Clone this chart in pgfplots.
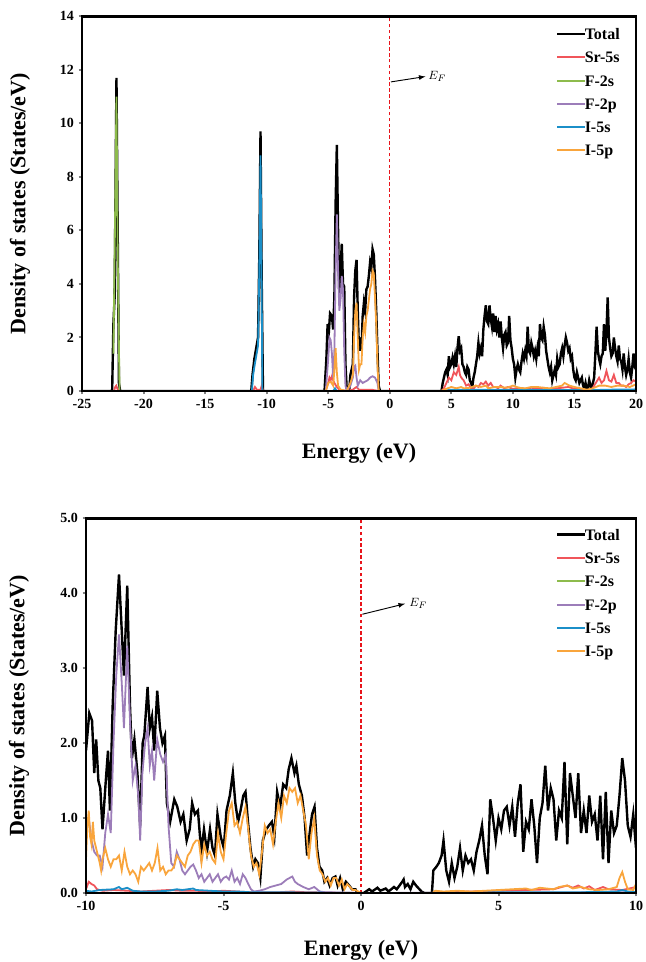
\documentclass[border=0pt]{standalone}
\usepackage{fontspec}
\setmainfont{Liberation Serif}
\usepackage{pgfplots}
\pgfplotsset{compat=1.18}

\definecolor{dosTotal}{RGB}{0,0,0}
\definecolor{dosSr}{RGB}{240,85,90}
\definecolor{dosFs}{RGB}{141,187,76}
\definecolor{dosFp}{RGB}{156,125,185}
\definecolor{dosIs}{RGB}{27,143,200}
\definecolor{dosIp}{RGB}{249,165,60}
\definecolor{dosFermi}{RGB}{232,20,27}

% legend sample: a coloured rule set as text, followed by the label
\newcommand\legline[2][1.6pt]{\textcolor{#2}{\rule[0.28em]{0.72cm}{#1}}}

\pgfplotsset{
  dosaxis/.style={
    scale only axis,
    axis lines=box,
    axis line style={line width=2pt},
    xtick pos=left, ytick pos=left,
    tick align=outside, major tick length=2.5pt,
    tick style={line width=1.5pt},
    /pgf/number format/assume math mode=true,
    ticklabel style={font=\bfseries\fontsize{10.5}{12}\selectfont},
    label style={font=\bfseries\fontsize{16.5}{19}\selectfont},
    legend style={draw=none, fill=none, font=\bfseries\fontsize{12}{14}\selectfont,
      row sep=8pt, inner sep=0pt, column sep=0pt,
      nodes={inner sep=0pt, outer sep=0pt}},
    legend cell align=left,
    legend image code/.code={},
  },
  tot/.style={color=dosTotal, line width=1.8pt},
  pd/.style={line width=1.35pt},
  fermi/.style={forget plot, color=dosFermi, line width=0.9pt, dash pattern=on 2.6pt off 1.8pt},
}

\begin{document}
\begin{tikzpicture}
\path[use as bounding box] (0,0) rectangle (483.75pt,721.5pt);

% ---------------- full energy window ----------------
\begin{axis}[dosaxis, name=full,
  at={(61.5pt,428.25pt)}, anchor=south west,
  width=415.5pt, height=281pt,
  xmin=-25, xmax=20, ymin=0, ymax=14,
  xtick={-25,-20,...,20}, ytick={0,2,...,14},
  xlabel={Energy (eV)}, ylabel={Density of states (States/eV)},
  xlabel style={at={(axis description cs:0.5,-0.165)}, anchor=center},
  ylabel style={at={(axis description cs:-0.112,0.5)}, anchor=center},
  legend style={at={(axis description cs:1,1)}, anchor=north east, xshift=-12pt, yshift=-9pt},
]
% Fermi level
\addplot[fermi] coordinates {(0,0) (0,14)};
\addplot[tot] coordinates {
(-25,0) (-22.55,0) (-22.45,2.5) (-22.35,3.5) (-22.25,9) (-22.2,11.7) (-22.1,6) (-22.0,0.3) (-21.9,0)
(-11.25,0) (-11.15,0.6) (-11.0,1.2) (-10.85,1.6) (-10.7,2.0) (-10.6,5) (-10.5,9.7) (-10.4,4) (-10.3,0)
(-5.3,0) (-5.15,1.2) (-5.05,2.5) (-4.95,2.2) (-4.85,2.9) (-4.7,2.8) (-4.6,2.3) (-4.5,3.5) (-4.4,7) (-4.3,9.2)
(-4.2,6) (-4.1,3.6) (-4.0,4.5) (-3.9,5.5) (-3.8,4.0) (-3.7,3.9) (-3.6,1) (-3.5,0.1) (-3.3,0) (-3.2,0.6)
(-3.0,1.0) (-2.9,3.5) (-2.8,4.5) (-2.7,4.9) (-2.6,3.0) (-2.5,1.5) (-2.4,2.0) (-2.3,1.5) (-2.2,2.8) (-2.1,3.3)
(-2.0,3.0) (-1.9,3.8) (-1.8,3.9) (-1.7,4.3) (-1.6,4.8) (-1.5,4.6) (-1.4,5.3) (-1.3,5.1) (-1.2,4.2) (-1.1,3.0)
(-1.0,1.5) (-0.9,0.2) (-0.8,0)
(4.2,0) (4.3,0.3) (4.4,0.5) (4.5,0.7) (4.6,0.8) (4.7,0.6) (4.8,1.3) (4.9,0.9) (5.0,1.0) (5.1,1.25) (5.2,1.0)
(5.3,1.3) (5.4,0.9) (5.5,1.6) (5.6,2.05) (5.7,1.5) (5.8,1.6) (5.9,1.0) (6.0,0.9) (6.1,0.7) (6.2,0.6) (6.3,0.9)
(6.4,0.8) (6.5,0.4) (6.6,0.3) (6.7,0.15) (6.8,0.5) (6.9,0.7) (7.0,1.0) (7.1,1.3) (7.2,1.8) (7.3,1.4) (7.4,1.6)
(7.5,1.3) (7.6,2.3) (7.7,2.8) (7.8,3.2) (7.9,2.6) (8.0,2.5) (8.1,3.2) (8.2,2.7) (8.3,2.4) (8.4,2.9) (8.5,2.2)
(8.6,2.8) (8.7,2.3) (8.8,2.5) (8.9,2.0) (9.0,2.6) (9.1,2.0) (9.2,1.6) (9.3,2.1) (9.4,2.2) (9.5,1.7) (9.6,1.8)
(9.7,2.8) (9.8,1.9) (9.9,1.6) (10.0,1.2) (10.1,1.0) (10.2,0.5) (10.3,0.8) (10.4,1.0) (10.5,0.8) (10.6,0.7)
(10.7,1.1) (10.8,1.4) (10.9,1.2) (11.0,1.5) (11.1,1.3) (11.2,2.4) (11.3,1.5) (11.4,1.4) (11.5,1.8) (11.6,1.6)
(11.7,1.3) (11.8,1.5) (11.9,1.2) (12.0,1.6) (12.1,1.3) (12.2,2.5) (12.3,2.0) (12.4,1.9) (12.5,2.4) (12.6,2.1)
(12.7,1.5) (12.8,1.2) (12.9,0.9) (13.0,0.7) (13.1,0.9) (13.2,0.4) (13.3,0.6) (13.4,0.8) (13.5,0.6) (13.6,1.2)
(13.7,0.9) (13.8,1.0) (13.9,1.4) (14.0,1.6) (14.1,1.3) (14.2,1.7) (14.3,2.0) (14.4,1.8) (14.5,1.5) (14.6,1.6)
(14.7,1.2) (14.8,1.3) (14.9,0.8) (15.0,0.5) (15.1,0.4) (15.2,0.7) (15.3,0.5) (15.4,0.3) (15.5,0.4) (15.6,0.5)
(15.7,0.2) (15.8,0.1) (15.9,0.3) (16.0,0.05) (16.1,0.1) (16.2,0.4) (16.3,0.2) (16.4,0.1) (16.5,0.3) (16.6,0.5)
(16.7,1.4) (16.8,2.4) (16.9,1.5) (17.0,1.2) (17.1,1.0) (17.2,1.3) (17.3,1.4) (17.4,2.5) (17.5,1.5) (17.6,2.2)
(17.7,3.5) (17.8,2.0) (17.9,1.6) (18.0,1.3) (18.1,1.4) (18.2,2.0) (18.3,1.6) (18.4,1.3) (18.5,1.1) (18.6,1.7)
(18.7,1.2) (18.8,1.1) (18.9,0.8) (19.0,1.4) (19.1,0.9) (19.2,0.6) (19.3,0.8) (19.4,1.2) (19.5,0.7) (19.6,0.5)
(19.7,0.9) (19.8,1.4) (19.9,0.9) (20.0,0.8)
};
\addlegendentry{\legline[1.9pt]{dosTotal}Total}
\addplot[pd, color=dosSr] coordinates {
(-25,0) (-22.4,0) (-22.3,0.15) (-22.22,0.2) (-22.1,0.05) (-22.0,0) (-11.1,0) (-10.95,0.15) (-10.8,0.05)
(-10.5,0.05) (-10.4,0.2) (-10.3,0) (-5.2,0) (-5.0,0.3) (-4.9,0.5) (-4.8,0.4) (-4.7,0.55) (-4.6,0.4) (-4.5,0.3)
(-4.3,0.15) (-4.1,0.05) (-3.5,0) (-3.0,0.05) (-2.8,0.12) (-2.7,0.15) (-2.5,0.05) (-1.5,0.05) (-0.9,0)
(4.2,0) (4.4,0.1) (4.6,0.3) (4.8,0.5) (5.0,0.4) (5.2,0.7) (5.4,0.6) (5.6,0.9) (5.7,0.6) (5.8,0.5) (6.0,0.4)
(6.2,0.2) (6.4,0.25) (6.6,0.1) (6.8,0.08) (7.0,0.2) (7.2,0.15) (7.4,0.3) (7.6,0.25) (7.8,0.35) (8.0,0.2)
(8.2,0.3) (8.4,0.15) (8.6,0.15) (8.8,0.1) (9.0,0.2) (9.3,0.1) (9.6,0.15) (10.0,0.08) (10.5,0.12) (11.0,0.08)
(11.5,0.12) (12.0,0.1) (12.5,0.12) (13.0,0.07) (13.5,0.1) (14.0,0.12) (14.5,0.15) (15.0,0.08) (15.5,0.07)
(16.0,0.03) (16.4,0.05) (16.6,0.2) (16.8,0.35) (17.0,0.5) (17.2,0.3) (17.4,0.4) (17.6,0.75) (17.8,0.4) (18.0,0.35)
(18.2,0.6) (18.4,0.3) (18.6,0.3) (18.8,0.2) (19.0,0.2) (19.2,0.15) (19.4,0.25) (19.6,0.3) (19.8,0.4) (20.0,0.35)
};
\addlegendentry{\legline{dosSr}Sr-5s}
\addplot[pd, color=dosFs] coordinates {
(-22.45,1.4) (-22.35,5) (-22.2,11.0) (-22.1,5) (-21.95,0) (20,0)
};
\addlegendentry{\legline{dosFs}F-2s}
\addplot[pd, color=dosFp] coordinates {
(-25,0) (-5.2,0) (-5.0,1.2) (-4.9,2.0) (-4.8,1.9) (-4.7,1.4) (-4.6,0.5) (-4.5,1.5) (-4.4,4.5) (-4.3,6.6) (-4.2,4.5)
(-4.1,3.0) (-4.0,3.4) (-3.9,4.3) (-3.8,3.8) (-3.7,1.5) (-3.6,0.2) (-3.5,0) (-3.2,0.2) (-3.0,0.5) (-2.9,0.9)
(-2.8,0.95) (-2.7,0.5) (-2.6,0.2) (-2.4,0.4) (-2.2,0.3) (-2.0,0.35) (-1.8,0.4) (-1.6,0.5) (-1.4,0.55) (-1.2,0.5)
(-1.0,0.3) (-0.9,0) (20,0)
};
\addlegendentry{\legline{dosFp}F-2p}
\addplot[pd, color=dosIs] coordinates {
(-25,0) (-11.2,0) (-11.1,0.6) (-11.0,0.9) (-10.85,1.3) (-10.7,1.7) (-10.6,4.5) (-10.5,8.8) (-10.4,3.5) (-10.35,0)
(-4.6,0) (-4.45,0.1) (-4.3,0) (4.2,0) (5,0.05) (8,0.05) (12,0.04) (16,0.03) (18,0.05) (20,0.06)
};
\addlegendentry{\legline{dosIs}I-5s}
\addplot[pd, color=dosIp] coordinates {
(-25,0) (-5.2,0) (-5.0,0.3) (-4.8,0.35) (-4.6,0.2) (-4.5,0.8) (-4.4,1.6) (-4.3,0.7) (-4.2,0.2) (-4.0,0.05) (-3.5,0)
(-3.2,0.3) (-3.0,0.6) (-2.9,2.0) (-2.8,3.0) (-2.7,3.3) (-2.6,2.0) (-2.5,0.8) (-2.4,1.0) (-2.3,1.0) (-2.2,2.0)
(-2.1,2.5) (-2.0,2.2) (-1.9,2.8) (-1.8,3.0) (-1.7,3.4) (-1.6,3.8) (-1.5,4.0) (-1.4,4.5) (-1.3,4.4) (-1.2,3.5)
(-1.1,2.5) (-1.0,1.0) (-0.9,0) (4.2,0) (4.4,0.05) (4.7,0.1) (5.0,0.15) (5.4,0.1) (5.8,0.15) (6.0,0.1) (6.5,0.12)
(7.0,0.2) (7.4,0.15) (7.8,0.2) (8.0,0.1) (8.5,0.15) (9.0,0.15) (9.5,0.12) (10.0,0.2) (10.5,0.12) (11.0,0.1)
(11.5,0.15) (12.0,0.15) (12.5,0.12) (13.0,0.1) (13.5,0.15) (14.0,0.2) (14.2,0.3) (14.6,0.2) (15.0,0.15) (15.5,0.1)
(16.0,0.05) (16.5,0.1) (17.0,0.2) (17.5,0.2) (18.0,0.15) (18.5,0.2) (19.0,0.2) (19.5,0.15) (20.0,0.25)
};
\addlegendentry{\legline{dosIp}I-5p}
\draw[-latex, line width=0.7pt] (axis cs:0.1,11.55) -- (axis cs:2.9,11.75);
\node[anchor=west, inner sep=1pt, font=\fontsize{9.5}{10}\selectfont] at (axis cs:3.0,11.75) {$E_F$};
\end{axis}

% ---------------- zoom around the gap ----------------
\begin{axis}[dosaxis, name=zoom,
  at={(64.5pt,51.75pt)}, anchor=south west,
  width=412.5pt, height=281pt,
  xmin=-10, xmax=10, ymin=0, ymax=5,
  xtick={-10,-5,...,10}, ytick={0,1,...,5},
  yticklabel style={/pgf/number format/.cd, fixed, fixed zerofill, precision=1},
  xlabel={Energy (eV)}, ylabel={Density of states (States/eV)},
  xlabel style={at={(axis description cs:0.5,-0.152)}, anchor=center},
  ylabel style={at={(axis description cs:-0.122,0.5)}, anchor=center},
  legend style={at={(axis description cs:1,1)}, anchor=north east, xshift=-12pt, yshift=-8pt},
]
% Fermi level
\addplot[fermi] coordinates {(0,0) (0,5)};
\addplot[tot] coordinates {
(-10,1.9) (-9.88,2.4) (-9.78,2.3) (-9.7,1.6) (-9.63,2.05) (-9.55,1.5) (-9.48,1.4) (-9.4,0.85) (-9.28,1.5)
(-9.2,1.9) (-9.13,1.1) (-9.03,2.5) (-8.92,3.5) (-8.8,4.25) (-8.7,3.5) (-8.62,2.9) (-8.5,4.1) (-8.4,2.5)
(-8.33,1.8) (-8.24,2.05) (-8.13,1.6) (-8.03,0.9) (-7.94,2.0) (-7.88,2.1) (-7.76,2.75) (-7.68,2.2) (-7.6,2.35)
(-7.52,1.9) (-7.41,2.7) (-7.31,2.2) (-7.22,2.0) (-7.13,2.1) (-7.06,1.2) (-6.94,0.95) (-6.79,1.25) (-6.68,1.15)
(-6.56,0.95) (-6.46,1.05) (-6.34,0.7) (-6.23,0.85) (-6.14,1.2) (-6.04,1.05) (-5.93,1.1) (-5.81,0.55) (-5.71,0.85)
(-5.6,0.55) (-5.49,0.85) (-5.4,0.6) (-5.31,0.5) (-5.22,1.05) (-5.1,0.75) (-4.99,0.6) (-4.89,1.1) (-4.77,1.3)
(-4.66,1.6) (-4.57,1.2) (-4.47,0.95) (-4.38,1.1) (-4.28,1.3) (-4.2,1.35) (-4.11,0.95) (-4.02,0.6) (-3.92,0.35)
(-3.84,0.45) (-3.75,0.4) (-3.66,0.2) (-3.57,0.7) (-3.45,0.85) (-3.35,0.9) (-3.24,0.95) (-3.15,0.75) (-3.05,1.35)
(-2.94,1.15) (-2.83,1.45) (-2.72,1.4) (-2.63,1.65) (-2.53,1.8) (-2.42,1.6) (-2.35,1.7) (-2.26,1.45) (-2.15,1.3)
(-2.05,1.0) (-1.96,0.5) (-1.85,0.85) (-1.78,1.05) (-1.69,1.15) (-1.6,0.6) (-1.51,0.35) (-1.41,0.3) (-1.33,0.15)
(-1.23,0.2) (-1.14,0.1) (-1.03,0.2) (-0.93,0.22) (-0.85,0.1) (-0.76,0.2) (-0.66,0.05) (-0.55,0.15) (-0.43,0.1)
(-0.33,0.05) (-0.2,0.05) (-0.13,0) (0.1,0) (0.3,0.05) (0.4,0.02) (0.6,0.07) (0.7,0.03) (0.9,0.06) (1.0,0.02)
(1.2,0.08) (1.3,0.05) (1.5,0.15) (1.55,0.18) (1.6,0.08) (1.7,0.12) (1.8,0.05) (1.9,0.15) (2.0,0.1) (2.2,0.02)
(2.3,0) (2.58,0) (2.63,0.3) (2.74,0.35) (2.83,0.4) (2.93,0.5) (3.0,0.7) (3.1,0.3) (3.2,0.15) (3.3,0.4) (3.4,0.2)
(3.5,0.35) (3.6,0.6) (3.7,0.3) (3.8,0.5) (3.9,0.4) (4.0,0.45) (4.1,0.3) (4.2,0.55) (4.3,0.7) (4.4,0.9) (4.5,0.5)
(4.6,0.25) (4.7,1.25) (4.8,1.0) (4.9,0.7) (5.0,1.0) (5.1,0.85) (5.2,1.1) (5.3,1.15) (5.4,0.9) (5.5,1.15) (5.6,0.75)
(5.7,1.2) (5.8,1.45) (5.9,0.55) (6.0,0.95) (6.1,0.85) (6.2,1.25) (6.3,0.9) (6.4,0.4) (6.5,1.0) (6.6,1.2) (6.7,1.7)
(6.8,1.1) (6.9,1.4) (7.0,1.25) (7.1,0.7) (7.2,1.1) (7.3,1.0) (7.4,1.75) (7.5,0.65) (7.6,1.6) (7.7,1.3) (7.8,1.0)
(7.9,1.6) (8.0,0.8) (8.1,1.1) (8.2,0.8) (8.3,1.3) (8.4,0.95) (8.5,1.05) (8.6,0.7) (8.7,1.3) (8.8,0.45) (8.9,1.35)
(9.0,0.4) (9.1,1.1) (9.2,0.8) (9.3,0.9) (9.4,1.3) (9.5,1.8) (9.6,1.5) (9.7,0.9) (9.8,0.75) (9.9,1.05) (10.0,0.6)
};
\addlegendentry{\legline[1.9pt]{dosTotal}Total}
\addplot[pd, color=dosSr] coordinates {
(-10,0.05) (-9.9,0.15) (-9.8,0.12) (-9.7,0.1) (-9.6,0.05) (-9.4,0.03) (-9,0.04) (-8.5,0.03) (-8,0.02) (-7.5,0.03)
(-7,0.04) (-6.5,0.03) (-6,0.03) (-5.5,0.02) (-5,0.03) (-4.5,0.02) (-4,0.01) (-3,0.01) (-2.5,0.02) (-2,0.01) (0,0)
(2.6,0) (3,0.01) (4,0.02) (5,0.03) (6,0.04) (7,0.05) (7.3,0.08) (7.5,0.1) (7.7,0.07) (7.9,0.1) (8.1,0.06)
(8.3,0.09) (8.5,0.04) (8.8,0.08) (9,0.05) (9.5,0.04) (10,0.08)
};
\addlegendentry{\legline{dosSr}Sr-5s}
\addplot[pd, color=dosFs] coordinates {(-10,0.005) (10,0.005)};
\addlegendentry{\legline{dosFs}F-2s}
\addplot[pd, color=dosFp] coordinates {
(-10,0.9) (-9.9,1.0) (-9.8,0.7) (-9.7,0.55) (-9.6,0.5) (-9.5,0.5) (-9.4,0.35) (-9.3,0.8) (-9.2,1.05) (-9.1,0.8)
(-9.0,2.0) (-8.9,2.9) (-8.8,3.45) (-8.7,2.8) (-8.62,2.2) (-8.5,3.3) (-8.4,2.3) (-8.3,1.5) (-8.2,1.7) (-8.1,1.3)
(-8.03,0.7) (-7.95,1.6) (-7.85,2.0) (-7.76,2.2) (-7.68,1.7) (-7.6,1.9) (-7.52,1.5) (-7.41,2.05) (-7.3,1.85)
(-7.2,1.75) (-7.1,1.85) (-7.0,0.9) (-6.9,0.4) (-6.8,0.35) (-6.7,0.55) (-6.6,0.45) (-6.5,0.3) (-6.4,0.25)
(-6.3,0.3) (-6.2,0.35) (-6.1,0.38) (-6.0,0.3) (-5.9,0.2) (-5.8,0.25) (-5.7,0.15) (-5.6,0.2) (-5.5,0.25)
(-5.4,0.15) (-5.3,0.2) (-5.2,0.25) (-5.1,0.15) (-5.0,0.2) (-4.9,0.22) (-4.8,0.18) (-4.7,0.3) (-4.6,0.15)
(-4.5,0.2) (-4.4,0.12) (-4.3,0.25) (-4.2,0.2) (-4.1,0.12) (-4.0,0.05) (-3.9,0.02) (-3.7,0.03) (-3.5,0.05)
(-3.3,0.08) (-3.1,0.1) (-2.9,0.12) (-2.7,0.18) (-2.6,0.2) (-2.5,0.22) (-2.4,0.15) (-2.3,0.12) (-2.1,0.08)
(-1.9,0.05) (-1.7,0.08) (-1.5,0.02) (-1.3,0.01) (0,0) (10,0.01)
};
\addlegendentry{\legline{dosFp}F-2p}
\addplot[pd, color=dosIs] coordinates {
(-10,0.03) (-9.8,0.02) (-9.5,0.04) (-9.0,0.05) (-8.8,0.08) (-8.7,0.05) (-8.5,0.07) (-8.3,0.03) (-8,0.02)
(-7.5,0.02) (-7,0.03) (-6.7,0.05) (-6.5,0.04) (-6.1,0.06) (-6,0.04) (-5.5,0.03) (-5,0.02) (-4.5,0.02)
(-4,0.01) (-3,0.01) (0,0) (2.6,0) (5,0.01) (8,0.01) (9.3,0.02) (9.5,0.04) (9.7,0.02) (10,0.01)
};
\addlegendentry{\legline{dosIs}I-5s}
\addplot[pd, color=dosIp] coordinates {
(-10,0.45) (-9.95,0.9) (-9.9,1.1) (-9.85,0.75) (-9.8,0.65) (-9.75,0.95) (-9.7,0.7) (-9.6,0.55) (-9.5,0.4)
(-9.45,0.3) (-9.4,0.45) (-9.3,0.6) (-9.2,0.45) (-9.1,0.35) (-9.0,0.45) (-8.9,0.45) (-8.8,0.5) (-8.7,0.3)
(-8.6,0.55) (-8.5,0.35) (-8.4,0.25) (-8.3,0.3) (-8.2,0.25) (-8.1,0.15) (-8.0,0.35) (-7.9,0.3) (-7.8,0.35)
(-7.7,0.4) (-7.6,0.3) (-7.5,0.4) (-7.4,0.6) (-7.3,0.3) (-7.2,0.35) (-7.1,0.25) (-7.0,0.3) (-6.9,0.3) (-6.8,0.35)
(-6.7,0.5) (-6.6,0.45) (-6.5,0.4) (-6.4,0.35) (-6.3,0.5) (-6.2,0.55) (-6.1,0.65) (-6.0,0.7) (-5.9,0.7) (-5.8,0.4)
(-5.7,0.65) (-5.6,0.5) (-5.5,0.55) (-5.4,0.45) (-5.3,0.4) (-5.2,0.8) (-5.1,0.55) (-5.0,0.45) (-4.9,0.8) (-4.8,1.1)
(-4.7,1.2) (-4.6,0.9) (-4.5,0.95) (-4.4,0.8) (-4.3,1.0) (-4.2,1.15) (-4.1,0.85) (-4.0,0.5) (-3.9,0.35) (-3.8,0.4)
(-3.7,0.25) (-3.6,0.55) (-3.5,0.9) (-3.4,0.8) (-3.3,0.85) (-3.2,0.65) (-3.1,0.95) (-3.0,1.2) (-2.9,1.0) (-2.8,1.3)
(-2.7,1.2) (-2.6,1.4) (-2.5,1.35) (-2.4,1.4) (-2.3,1.2) (-2.2,1.3) (-2.1,1.1) (-2.0,0.9) (-1.9,0.45) (-1.8,0.8)
(-1.7,1.0) (-1.6,0.5) (-1.5,0.3) (-1.4,0.25) (-1.3,0.15) (-1.2,0.2) (-1.1,0.1) (-1.0,0.2) (-0.9,0.2) (-0.8,0.1)
(-0.7,0.18) (-0.6,0.05) (-0.5,0.12) (-0.4,0.08) (-0.3,0.04) (-0.2,0.04) (0,0) (2.6,0) (2.7,0.03) (3.0,0.02)
(3.5,0.03) (4,0.02) (4.5,0.03) (5,0.04) (5.5,0.05) (6.0,0.06) (6.2,0.04) (6.5,0.07) (7,0.05) (7.2,0.08) (7.5,0.1)
(7.7,0.06) (8,0.08) (8.3,0.05) (8.6,0.04) (9,0.05) (9.3,0.08) (9.4,0.2) (9.5,0.28) (9.6,0.15) (9.7,0.05) (9.9,0.04)
(10,0.12)
};
\addlegendentry{\legline{dosIp}I-5p}
\draw[-latex, line width=0.7pt] (axis cs:0.05,3.72) -- (axis cs:1.6,3.86);
\node[anchor=west, inner sep=1pt, font=\fontsize{9.5}{10}\selectfont] at (axis cs:1.7,3.86) {$E_F$};
\end{axis}

% frames round both panels
\draw[black, line width=2pt] (full.south west) rectangle (full.north east);
\draw[black, line width=2pt] (zoom.south west) rectangle (zoom.north east);
\end{tikzpicture}
\end{document}
